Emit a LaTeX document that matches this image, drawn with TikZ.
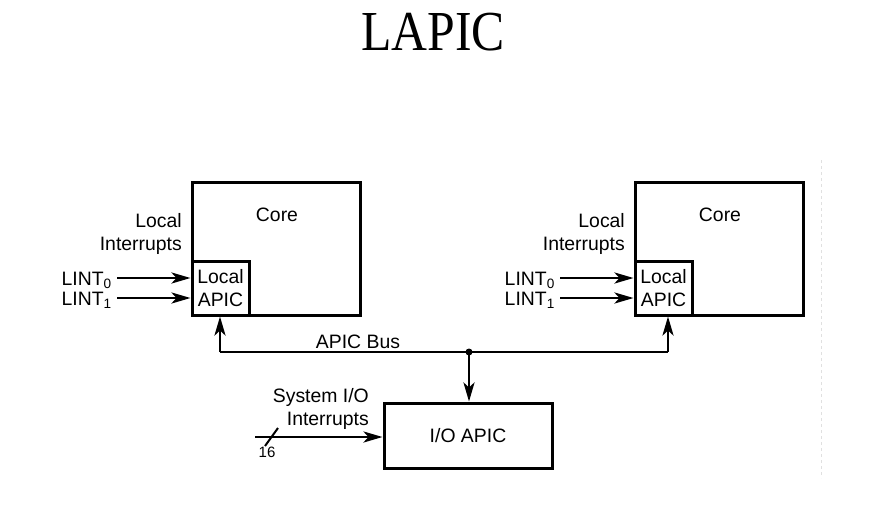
\documentclass[tikz,border=0pt]{standalone}
\usepackage{fontspec}
\setmainfont{Liberation Sans}
\newfontfamily\titlefont{Liberation Serif}
\usetikzlibrary{arrows.meta}
\begin{document}
\begin{tikzpicture}[x=1pt,y=-1pt,
  box/.style={draw=black,line width=3pt,inner sep=0pt},
  lbl/.style={font=\fontsize{19.4}{23.5}\selectfont,inner sep=0pt},
  arr/.style={line width=2.8pt,-{Stealth[length=19pt,width=11pt,inset=5pt]}},
  wire/.style={line width=2.8pt}]
\useasboundingbox[fill=white] (0,0) rectangle (877,504);
% title
\node[inner sep=0pt] (title) at (433,32) {\titlefont\fontsize{56.5}{56.5}\selectfont\scalebox{0.88}[1]{LAPIC}};
% left core
\node[box,minimum width=168pt,minimum height=133pt] (coreL) at (276,248.5) {};
\node[box,minimum width=57pt,minimum height=54pt] (apicL) at (220.5,288) {};
\node[lbl,align=center] (apicLt) at (apicL.center) {Local\\APIC};
\node[lbl] (coreLt) at (277,215) {Core};
\node[lbl,align=right,anchor=east] (liL) at (182,234) {Local\\Interrupts};
\node[lbl,anchor=east] (l0L) at (112,280) {LINT\textsubscript{0}};
\node[lbl,anchor=east] (l1L) at (112,300) {LINT\textsubscript{1}};
\coordinate (a0L) at (117,278);
\coordinate (a1L) at (117,298);
\draw[arr] (a0L) -- (a0L -| apicL.west);
\draw[arr] (a1L) -- (a1L -| apicL.west);
% right core
\node[box,minimum width=168pt,minimum height=133pt] (coreR) at (719,248.5) {};
\node[box,minimum width=57pt,minimum height=54pt] (apicR) at (663.5,288) {};
\node[lbl,align=center] (apicRt) at (apicR.center) {Local\\APIC};
\node[lbl] (coreRt) at (720,215) {Core};
\node[lbl,align=right,anchor=east] (liR) at (625,234) {Local\\Interrupts};
\node[lbl,anchor=east] (l0R) at (555,280) {LINT\textsubscript{0}};
\node[lbl,anchor=east] (l1R) at (555,300) {LINT\textsubscript{1}};
\coordinate (a0R) at (560,278);
\coordinate (a1R) at (560,298);
\draw[arr] (a0R) -- (a0R -| apicR.west);
\draw[arr] (a1R) -- (a1R -| apicR.west);
% bus
\coordinate (busL) at (220,352);
\coordinate (busR) at (668,352);
\coordinate (busJ) at (469,352);
\draw[wire] (busL) -- (busR);
\draw[arr] (busL) -- (busL |- apicL.south);
\draw[arr] (busR) -- (busR |- apicR.south);
\fill (busJ) circle (3.5pt);
\node[lbl] (busT) at (358,342) {APIC Bus};
% I/O APIC
\node[box,minimum width=168pt,minimum height=65pt] (ioapic) at (468,435.5) {};
\node[lbl] (ioT) at (ioapic.center) {I/O APIC};
\draw[arr] (busJ) -- (busJ |- ioapic.north);
\node[lbl,align=right,anchor=east] (sysT) at (369,409) {System I/O\\Interrupts};
\coordinate (inS) at (255,437);
\draw[arr] (inS) -- (inS -| ioapic.west);
\coordinate (slA) at (265,446);
\coordinate (slB) at (278,428);
\draw[line width=2pt] (slA) -- (slB);
\node[inner sep=0pt,font=\fontsize{15}{15}\selectfont] (n16) at (267,452) {16};
% faint dashed edge
\coordinate (dTop) at (821,160);
\coordinate (dBot) at (821,478);
\draw[black!12,line width=0.8pt,dash pattern=on 3pt off 3pt] (dTop) -- (dBot);
\end{tikzpicture}
\end{document}
